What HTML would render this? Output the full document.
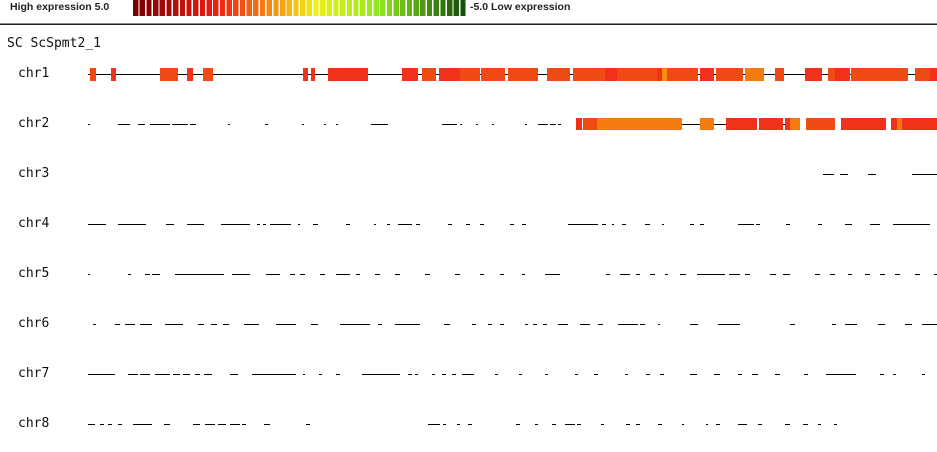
<!DOCTYPE html>
<html><head><meta charset="utf-8"><style>
body{margin:0;background:#fff;width:937px;height:452px;overflow:hidden;position:relative;font-family:"Liberation Sans",sans-serif}
.lg{position:absolute;top:1px;font-size:10.5px;font-weight:bold;color:#222}
.lab{position:absolute;font-family:"DejaVu Sans Mono","Liberation Mono",monospace;font-size:13px;color:#111}
</style></head><body>
<div class="lg" style="left:10px">High expression 5.0</div>
<div class="lg" style="left:470px">-5.0 Low expression</div>
<div style="position:absolute;left:0;top:23px;width:937px;height:1px;background:#888"></div>
<div style="position:absolute;left:0;top:24px;width:937px;height:1px;background:#222"></div>
<div class="lab" style="left:7px;top:36px">SC ScSpmt2_1</div>
<div class="lab" style="left:18px;top:66px">chr1</div>
<div class="lab" style="left:18px;top:116px">chr2</div>
<div class="lab" style="left:18px;top:166px">chr3</div>
<div class="lab" style="left:18px;top:216px">chr4</div>
<div class="lab" style="left:18px;top:266px">chr5</div>
<div class="lab" style="left:18px;top:316px">chr6</div>
<div class="lab" style="left:18px;top:366px">chr7</div>
<div class="lab" style="left:18px;top:416px">chr8</div>
<svg id="s" width="937" height="452" style="position:absolute;left:0;top:0" shape-rendering="crispEdges"></svg>
<script>
var s=document.getElementById('s'),h='';
function R(x,y,w,hh,c){h+='<rect x="'+x+'" y="'+y+'" width="'+w+'" height="'+hh+'" fill="'+c+'"/>';}
var stops=[[0,[120,0,0]],[0.25,[240,30,20]],[0.4,[245,130,20]],[0.55,[240,240,20]],[0.75,[140,230,30]],[1,[20,80,10]]];
for(var i=0;i<50;i++){var t=i/49,a,b;for(var k=0;k<stops.length-1;k++)if(t>=stops[k][0]&&t<=stops[k+1][0]){a=stops[k];b=stops[k+1];}
var f=(t-a[0])/(b[0]-a[0]);var c='rgb('+a[1].map(function(v,j){return Math.round(v+(b[1][j]-v)*f)}).join(',')+')';R(133+i*6.68,0,5.3,16,c);}
var r1='#f0321a',r2='#f04a14',o='#f57a10';
R(88,74,849,1,'#000');
[[90,96,r2],[111,116,r1],[160,178,r2],[187,193,r1],[203,213,r2],[303,308,r1],[311,315,r1],[328,368,r1],[402,418,r1],[422,436,r2],[439,460,r1],[460,480,r2],[481,505,r2],[508,538,r2],[547,570,r2],[573,605,r2],[605,617,r1],[617,657,r2],[657,662,r1],[662,667,'#f59010'],[667,698,r2],[700,714,r1],[716,743,r2],[745,764,o],[775,784,r2],[805,822,r1],[828,835,r2],[835,850,r1],[851,893,r2],[893,908,r2],[915,930,r2],[930,937,r1]].forEach(function(b){R(b[0],68,b[1]-b[0],13,b[2]);});
[[88,90],[118,130],[138,145],[150,170],[172,188],[190,196],[228,230],[265,268],[302,304],[324,326],[336,338],[371,388],[442,457],[460,462],[476,478],[492,494],[525,527],[538,548],[550,556],[558,561],[682,700],[714,726],[783,790]].forEach(function(d){R(d[0],124,d[1]-d[0],1,'#000');});
[[576,582,r1],[583,597,r2],[597,682,o],[700,702,r1],[700,714,o],[726,757,r1],[759,783,r1],[785,790,r1],[790,800,o],[806,835,r2],[841,886,r1],[891,897,r1],[897,902,o],[902,937,r1]].forEach(function(b){R(b[0],118,b[1]-b[0],12,b[2]);});
var D={174:[[823,834],[840,848],[868,876],[912,937]],
224:[[88,106],[118,146],[166,174],[187,204],[221,250],[257,260],[263,266],[270,291],[298,300],[313,318],[346,350],[374,376],[387,390],[398,412],[416,420],[448,452],[466,470],[480,484],[510,514],[522,526],[568,598],[602,606],[612,614],[622,626],[645,650],[662,664],[690,694],[700,704],[738,754],[756,760],[786,790],[818,822],[845,852],[870,880],[893,930]],
274:[[88,90],[128,131],[145,150],[152,160],[175,224],[232,250],[266,280],[290,295],[300,305],[320,325],[336,350],[356,360],[375,380],[395,400],[425,430],[455,460],[480,484],[500,504],[522,525],[545,560],[606,610],[620,630],[636,640],[650,655],[665,668],[680,686],[697,725],[729,740],[745,750],[770,776],[783,790],[815,820],[830,835],[848,852],[865,870],[880,885],[895,900],[915,920],[934,937]],
324:[[93,96],[115,120],[125,135],[140,152],[165,183],[198,204],[211,217],[223,229],[244,259],[276,296],[311,318],[340,370],[378,382],[395,420],[444,450],[472,476],[488,492],[500,504],[525,528],[533,537],[543,547],[558,568],[580,590],[598,603],[618,638],[640,645],[658,660],[690,698],[718,740],[790,795],[832,836],[845,857],[878,885],[905,912],[922,937]],
374:[[88,115],[128,138],[140,150],[155,170],[173,180],[183,190],[195,200],[204,212],[230,238],[252,296],[303,305],[319,322],[336,340],[362,400],[408,412],[415,418],[432,435],[442,446],[452,456],[462,474],[495,498],[519,522],[545,548],[575,578],[594,598],[625,628],[646,650],[660,664],[690,697],[714,720],[738,742],[752,758],[775,780],[804,808],[826,856],[880,884],[893,896],[922,925]],
424:[[88,95],[100,104],[108,112],[118,122],[133,152],[164,170],[193,200],[205,215],[218,226],[230,240],[242,246],[264,270],[306,310],[428,440],[443,446],[457,460],[468,472],[516,520],[535,538],[552,556],[565,575],[577,581],[601,604],[626,630],[636,640],[658,662],[682,684],[706,708],[716,720],[738,747],[758,762],[785,790],[803,808],[818,821],[834,837]]};
for(var y in D)D[y].forEach(function(d){R(d[0],+y,d[1]-d[0],1,'#000');});
s.innerHTML=h;
</script>
</body></html>
